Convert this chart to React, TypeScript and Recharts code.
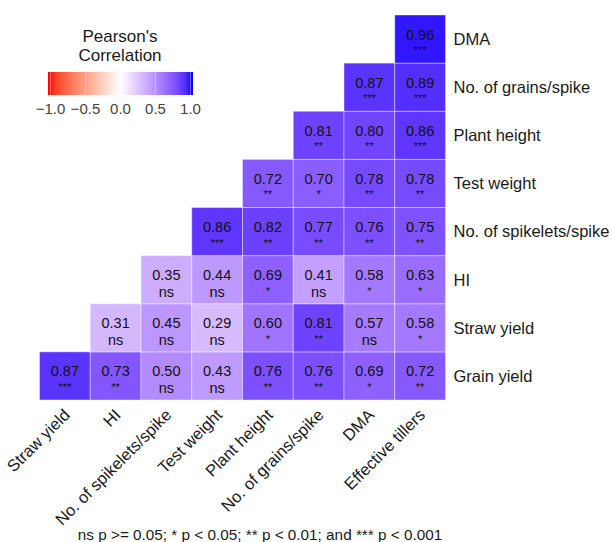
import React from "react";
import { Customized, Scatter, ScatterChart, XAxis, YAxis } from "recharts";

// columns left to right
const columns = [
  "Straw yield",
  "HI",
  "No. of spikelets/spike",
  "Test weight",
  "Plant height",
  "No. of grains/spike",
  "DMA",
  "Effective tillers",
];

// rows bottom to top
const rows = [
  "Grain yield",
  "Straw yield",
  "HI",
  "No. of spikelets/spike",
  "Test weight",
  "Plant height",
  "No. of grains/spike",
  "DMA",
];

// row i starts at column i
const corrByRow = [
  [0.87, 0.73, 0.5, 0.43, 0.76, 0.76, 0.69, 0.72],
  [0.31, 0.45, 0.29, 0.6, 0.81, 0.57, 0.58],
  [0.35, 0.44, 0.69, 0.41, 0.58, 0.63],
  [0.86, 0.82, 0.77, 0.76, 0.75],
  [0.72, 0.7, 0.78, 0.78],
  [0.81, 0.8, 0.86],
  [0.87, 0.89],
  [0.96],
];

const sigByRow = [
  ["***", "**", "ns", "ns", "**", "**", "*", "**"],
  ["ns", "ns", "ns", "*", "**", "ns", "*"],
  ["ns", "ns", "*", "ns", "*", "*"],
  ["***", "**", "**", "**", "**"],
  ["**", "*", "**", "**"],
  ["**", "**", "***"],
  ["***", "***"],
  ["***"],
];

const legendTicks = [-1, -0.5, 0, 0.5, 1];

const cells = corrByRow.flatMap((vals, ri) =>
  vals.map((r, k) => ({ x: ri + k, y: ri, r, sig: sigByRow[ri][k] }))
);

const W = 612;
const H = 542;
const M_LEFT = 39.5;
const M_TOP = 15;
const Y_W = 166.5;
const X_H = 142;
const CELL_W = (W - M_LEFT - Y_W) / columns.length;
const CELL_H = (H - M_TOP - X_H) / rows.length;
const FONT = "'Liberation Sans', Arial, Helvetica, sans-serif";

// ggplot-style gradient2 in Lab space: red - white - blue
function srgbToLinear(c: number) {
  c /= 255;
  return c <= 0.04045 ? c / 12.92 : Math.pow((c + 0.055) / 1.055, 2.4);
}
function linearToSrgb(c: number) {
  const v = c <= 0.0031308 ? 12.92 * c : 1.055 * Math.pow(c, 1 / 2.4) - 0.055;
  return Math.round(Math.min(1, Math.max(0, v)) * 255);
}
function toLab([r, g, b]: number[]) {
  const R = srgbToLinear(r), G = srgbToLinear(g), B = srgbToLinear(b);
  const X = (0.4124 * R + 0.3576 * G + 0.1805 * B) / 0.95047;
  const Y = 0.2126 * R + 0.7152 * G + 0.0722 * B;
  const Z = (0.0193 * R + 0.1192 * G + 0.9505 * B) / 1.08883;
  const f = (t: number) => (t > 0.008856 ? Math.cbrt(t) : 7.787 * t + 16 / 116);
  return [116 * f(Y) - 16, 500 * (f(X) - f(Y)), 200 * (f(Y) - f(Z))];
}
function fromLab([L, a, bb]: number[]) {
  const fy = (L + 16) / 116;
  const fx = fy + a / 500;
  const fz = fy - bb / 200;
  const inv = (t: number) => (t * t * t > 0.008856 ? t * t * t : (t - 16 / 116) / 7.787);
  const X = inv(fx) * 0.95047, Y = inv(fy), Z = inv(fz) * 1.08883;
  const R = 3.2406 * X - 1.5372 * Y - 0.4986 * Z;
  const G = -0.9689 * X + 1.8758 * Y + 0.0415 * Z;
  const B = 0.0557 * X - 0.204 * Y + 1.057 * Z;
  return `rgb(${linearToSrgb(R)},${linearToSrgb(G)},${linearToSrgb(B)})`;
}
const LAB_RED = toLab([255, 0, 0]);
const LAB_WHITE = toLab([255, 255, 255]);
const LAB_BLUE = toLab([0, 0, 255]);
function corrColor(v: number) {
  const end = v < 0 ? LAB_RED : LAB_BLUE;
  const t = Math.min(1, Math.abs(v));
  return fromLab(LAB_WHITE.map((w, i) => w + (end[i] - w) * t));
}

function HeatCell(props: any) {
  const { cx, cy, payload } = props;
  if (cx == null || cy == null) return null;
  return (
    <g>
      <rect
        x={cx - CELL_W / 2}
        y={cy - CELL_H / 2}
        width={CELL_W}
        height={CELL_H}
        fill={corrColor(payload.r)}
        stroke="#ffffff"
        strokeOpacity={0.4}
        strokeWidth={1}
      />
      <text x={cx} y={cy + 0.5} textAnchor="middle" fontSize={14.5} fontFamily={FONT} fill="#111">
        {payload.r.toFixed(2)}
      </text>
      <text
        x={cx}
        y={cy + (payload.sig === "ns" ? 17 : 15)}
        textAnchor="middle"
        fontSize={payload.sig === "ns" ? 14.5 : 11}
        fontFamily={FONT}
        fill="#111"
      >
        {payload.sig}
      </text>
    </g>
  );
}

function XTick(props: any) {
  const { x, y, payload } = props;
  return (
    <text
      transform={`translate(${x + 6},${y + 8}) rotate(-45)`}
      textAnchor="end"
      fontSize={16.5}
      fontFamily={FONT}
      fill="#1a1a1a"
    >
      {columns[payload.value]}
    </text>
  );
}

function LegendLayer() {
  const barX = 48;
  const barY = 72;
  const barW = 145;
  const barH = 23;
  const inset = 2.5;
  const pos = (v: number) => barX + inset + ((v + 1) / 2) * (barW - 2 * inset);
  const stops = Array.from({ length: 21 }, (_, i) => -1 + i * 0.1);
  return (
    <g fontFamily={FONT}>
      <defs>
        <linearGradient id="corrGrad" x1="0" y1="0" x2="1" y2="0">
          {stops.map((v) => (
            <stop key={v} offset={`${((v + 1) / 2) * 100}%`} stopColor={corrColor(v)} />
          ))}
        </linearGradient>
      </defs>
      <text x={120} y={42} textAnchor="middle" fontSize={17} fill="#1a1a1a">
        Pearson's
      </text>
      <text x={120} y={61} textAnchor="middle" fontSize={17} fill="#1a1a1a">
        Correlation
      </text>
      <rect x={barX} y={barY} width={barW} height={barH} fill="url(#corrGrad)" />
      {legendTicks.map((v) => (
        <g key={v}>
          <line x1={pos(v)} x2={pos(v)} y1={barY} y2={barY + barH} stroke="#fff" strokeOpacity={0.35} />
          <text x={pos(v)} y={114} textAnchor="middle" fontSize={15} fill="#444">
            {v.toFixed(1).replace("-", "\u2212")}
          </text>
        </g>
      ))}
      <text x={260} y={540} textAnchor="middle" fontSize={15.3} fill="#1a1a1a">
        ns p &gt;= 0.05; * p &lt; 0.05; ** p &lt; 0.01; and *** p &lt; 0.001
      </text>
    </g>
  );
}

export default function App() {
  return (
    <div style={{ position: "absolute", left: 0, top: 0, width: W, height: H, background: "#fff" }}>
      <ScatterChart
        width={W}
        height={H}
        margin={{ top: M_TOP, right: 0, bottom: 0, left: M_LEFT }}
      >
        <XAxis
          type="number"
          dataKey="x"
          domain={[-0.5, columns.length - 0.5]}
          ticks={columns.map((_, i) => i)}
          height={X_H}
          axisLine={false}
          tickLine={false}
          tick={<XTick />}
          interval={0}
        />
        <YAxis
          type="number"
          dataKey="y"
          orientation="right"
          domain={[-0.5, rows.length - 0.5]}
          ticks={rows.map((_, i) => i)}
          tickFormatter={(v: number) => rows[v]}
          width={Y_W}
          axisLine={false}
          tickLine={false}
          interval={0}
          tick={{ fontSize: 16.5, fontFamily: FONT, fill: "#1a1a1a", textAnchor: "start" }}
        />
        <Scatter data={cells} shape={<HeatCell />} isAnimationActive={false} />
        <Customized component={LegendLayer} />
      </ScatterChart>
    </div>
  );
}
